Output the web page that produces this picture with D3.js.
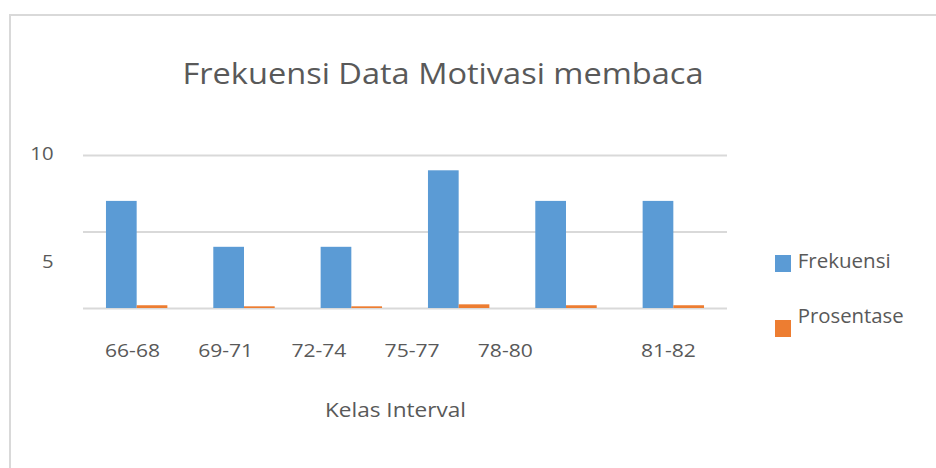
<!DOCTYPE html>
<html>
<head>
<meta charset="utf-8">
<script src="https://cdn.jsdelivr.net/npm/d3@7"></script>
<style>
	body { margin: 0; background: #fff; }
	svg { display: block; }
	text { font-family: "Open Sans", "Noto Sans", sans-serif; fill: #595959; }
</style>
</head>
<body>
<div id="chart"></div>
<script>

var categories = ["66-68", "69-71", "72-74", "75-77", "78-80", "81-82"];
var frekuensi  = [7, 4, 4, 9, 7, 7];
var prosentase = [0.18, 0.11, 0.11, 0.24, 0.18, 0.18];
var seriesNames = ["Frekuensi", "Prosentase"];
var seriesColors = ["#5B9BD5", "#ED7D31"];
var yTickLabels = [10, 5];
var chartTitle = "Frekuensi Data Motivasi membaca";
var xAxisTitle = "Kelas Interval";

var width = 936, height = 468;
var plotLeft = 83, plotRight = 727, plotTop = 155, plotBottom = 308;

// squeeze / stretch a text to a given width (the source font is narrower)
function fit(sel, w) {
	return sel.attr("textLength", w).attr("lengthAdjust", "spacingAndGlyphs");
}

var svg = d3.select("#chart").append("svg")
	.attr("width", width).attr("height", height);

// chart area frame
svg.append("rect")
	.attr("x", 10).attr("y", 15)
	.attr("width", 1000).attr("height", 1000)
	.attr("fill", "#fff")
	.attr("stroke", "#d9d9d9")
	.attr("stroke-width", 2);

var y = d3.scaleLinear().domain([0, 10]).range([plotBottom, plotTop]);

var x0 = d3.scaleBand().domain(categories)
	.range([plotLeft, plotRight])
	.paddingInner(0.428).paddingOuter(0.214);

var x1 = d3.scaleBand().domain(seriesNames)
	.range([0, x0.bandwidth()]).padding(0);

// gridlines
svg.append("g")
	.attr("class", "grid")
	.attr("transform", "translate(" + plotLeft + ",0)")
	.call(d3.axisLeft(y).tickValues([0, 5, 10])
		.tickSize(-(plotRight - plotLeft)).tickFormat(""))
	.call(function(g){
		g.select(".domain").remove();
		g.selectAll("line").attr("stroke", "#d9d9d9").attr("stroke-width", 2);
	});

// bars
var rows = categories.map(function(c, i){
	return { cat: c, values: [frekuensi[i], prosentase[i]] };
});

var groups = svg.append("g").selectAll("g")
	.data(rows).enter().append("g")
	.attr("transform", function(d){ return "translate(" + x0(d.cat) + ",0)"; });

groups.selectAll("rect")
	.data(function(d){ return d.values.map(function(v, j){ return { name: seriesNames[j], value: v, j: j }; }); })
	.enter().append("rect")
	.attr("x", function(d){ return x1(d.name); })
	.attr("width", x1.bandwidth())
	.attr("y", function(d){ return y(d.value); })
	.attr("height", function(d){ return y(0) - y(d.value); })
	.attr("fill", function(d){ return seriesColors[d.j]; });

// y labels (placed like the source, "5" sits below its gridline)
var yLabelPos = d3.scaleLinear().domain([10, 5]).range([160, 268]);
svg.append("g").selectAll("text")
	.data(yTickLabels).enter().append("text")
	.attr("x", 53.5)
	.attr("y", function(d){ return yLabelPos(d); })
	.attr("text-anchor", "end")
	.style("font-size", "19px")
	.text(function(d){ return d; })
	.each(function(d){ fit(d3.select(this), String(d).length * 11.6); });

// x labels, typed in a row under the plot; the last one is pushed right
var labelSlot = d3.scaleLinear().domain([0, 1]).range([132.5, 225.7]);
svg.append("g").selectAll("text")
	.data(categories).enter().append("text")
	.attr("x", function(d, i){ return labelSlot(i < 5 ? i : 5.75); })
	.attr("y", 356.5)
	.attr("text-anchor", "middle")
	.style("font-size", "18px")
	.text(function(d){ return d; })
	.call(fit, 55);

// title
svg.append("text")
	.attr("x", 182.5).attr("y", 84.3)
	.style("font-size", "30px")
	.text(chartTitle)
	.call(fit, 521);

// axis title
svg.append("text")
	.attr("x", 325).attr("y", 416.7)
	.style("font-size", "19.5px")
	.text(xAxisTitle)
	.call(fit, 141);

// legend
var legendTextY = [267.7, 323.3], legendBoxY = [255, 320], legendTextW = [93, 106];
var legend = svg.append("g").selectAll("g")
	.data(seriesNames).enter().append("g");

legend.append("rect")
	.attr("x", 775).attr("y", function(d, i){ return legendBoxY[i]; })
	.attr("width", 16).attr("height", 17)
	.attr("fill", function(d, i){ return seriesColors[i]; });

legend.append("text")
	.attr("x", 797.7).attr("y", function(d, i){ return legendTextY[i]; })
	.style("font-size", "20px")
	.text(function(d){ return d; })
	.each(function(d, i){ fit(d3.select(this), legendTextW[i]); });

</script>
</body>
</html>
